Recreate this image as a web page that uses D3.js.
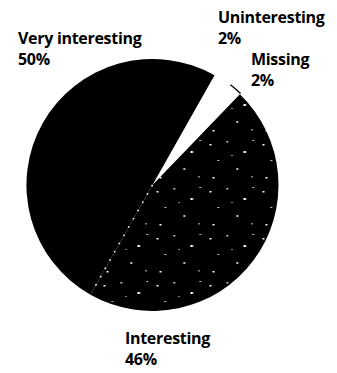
<!DOCTYPE html>
<html>
<head>
<meta charset="utf-8">
<script src="https://cdn.jsdelivr.net/npm/d3@7"></script>
<style>
  html, body { margin: 0; padding: 0; background: #fff; }
  svg { display: block; }
  text { font-family: "Open Sans", "Noto Sans", sans-serif; font-weight: 700; fill: #000; }
</style>
</head>
<body>
<svg id="chart" width="337" height="373"></svg>
<script>
// Survey answers, clockwise from the white wedge at the top right
const categories = ["Uninteresting", "Missing", "Interesting", "Very interesting"];
const shares = [2, 2, 46, 50];
const shareLabels = ["2%", "2%", "46%", "50%"];

const cx = 152.5, cy = 185, radius = 126;
const startDeg = 29.5;

const svg = d3.select("#chart");
const defs = svg.append("defs");

// Sparse speckled black fill for the "Interesting" slice
const tileW = 53, tileH = 47;
const speck = defs.append("pattern")
  .attr("id", "speckle")
  .attr("patternUnits", "userSpaceOnUse")
  .attr("width", tileW).attr("height", tileH);
speck.append("rect").attr("width", tileW).attr("height", tileH).attr("fill", "#000");
const specks = [
  [4, 6, 2, 1.5], [21, 3, 1.5, 1.5], [38, 13, 2.5, 2], [12, 22, 1.5, 1],
  [31, 30, 1.5, 2], [46, 38, 1, 1.5], [7, 39, 2, 1.5], [26, 17, 1, 1], [47, 2, 1.5, 1]
];
specks.forEach(s => speck.append("rect")
  .attr("x", s[0]).attr("y", s[1]).attr("width", s[2]).attr("height", s[3]).attr("fill", "#fff"));

const fills = {
  "Uninteresting": "#fff",
  "Missing": "#fff",
  "Interesting": "url(#speckle)",
  "Very interesting": "#000"
};

const pie = d3.pie()
  .sort(null)
  .value(d => d.value)
  .startAngle(startDeg * Math.PI / 180)
  .endAngle(startDeg * Math.PI / 180 + 2 * Math.PI);

const rows = categories.map((c, i) => ({ name: c, value: shares[i], label: shareLabels[i] }));
const arcs = pie(rows);

const arc = d3.arc().innerRadius(0).outerRadius(radius);
const g = svg.append("g").attr("transform", `translate(${cx},${cy})`);

g.selectAll("path.slice")
  .data(arcs)
  .join("path")
  .attr("class", "slice")
  .attr("d", arc)
  .attr("fill", d => fills[d.data.name]);

// Thin outer rim on the "Missing" slice
const rim = d3.arc().innerRadius(radius + 1).outerRadius(radius + 1);
g.append("path")
  .datum(arcs[1])
  .attr("d", d => rim({ startAngle: d.startAngle + 0.02, endAngle: d.endAngle }))
  .attr("fill", "none")
  .attr("stroke", "#000")
  .attr("stroke-width", 1.3);

// Broken white seam between "Interesting" and "Very interesting"
const seamAngle = arcs[3].startAngle;
g.append("line")
  .attr("x1", 0).attr("y1", 0)
  .attr("x2", Math.sin(seamAngle) * (radius - 4))
  .attr("y2", -Math.cos(seamAngle) * (radius - 4))
  .attr("stroke", "#fff")
  .attr("stroke-width", 1.6)
  .attr("stroke-dasharray", "1.5 8");

// Labels: name on the first line, share on the second
const labelPos = {
  "Very interesting": [18, 44],
  "Uninteresting": [218, 23],
  "Missing": [251, 65],
  "Interesting": [125, 344]
};
const lineGap = 21;

rows.forEach(r => {
  const [x, y] = labelPos[r.name];
  const t = svg.append("text")
    .attr("x", x).attr("y", y)
    .attr("font-size", 16)
    .attr("letter-spacing", -0.3);
  t.append("tspan").attr("x", x).attr("y", y).text(r.name);
  t.append("tspan").attr("x", x).attr("y", y + lineGap).text(r.label);
});
</script>
</body>
</html>
